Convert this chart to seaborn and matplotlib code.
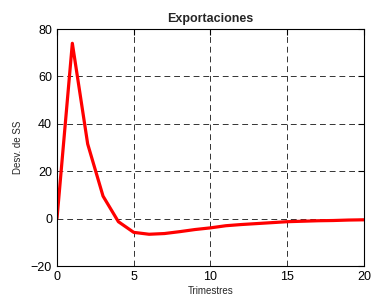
import matplotlib
matplotlib.use("Agg")
import matplotlib.pyplot as plt
import seaborn as sns
import pandas as pd

quarters = list(range(21))
desv = [0, 74, 31.5, 9.5, -1.3, -5.8, -6.6, -6.3, -5.5, -4.6, -3.9,
        -3.0, -2.5, -2.1, -1.7, -1.3, -1.1, -0.9, -0.8, -0.6, -0.5]
x_ticks = [0, 5, 10, 15, 20]
y_ticks = [-20, 0, 20, 40, 60, 80]

sns.set_style("white")
plt.rcParams['font.family'] = ['Liberation Sans', 'DejaVu Sans']

df = pd.DataFrame({"Trimestres": quarters, "Desv": desv})

fig = plt.figure(figsize=(3.71, 3.06), dpi=100)
ax = fig.add_axes([0.1536, 0.1307, 0.8274, 0.7743])
sns.lineplot(data=df, x="Trimestres", y="Desv", color="#ff0000", linewidth=2.3, ax=ax)
ax.set_xlim(0, 20)
ax.set_ylim(-20, 80)
ax.set_xticks(x_ticks)
ax.set_yticks(y_ticks)
ax.grid(True, color="black", linestyle=(0, (6, 4)), linewidth=0.7, alpha=0.8)
ax.tick_params(direction="in", length=4, labelsize=9, colors="black", width=0.8)
ax.tick_params(top=True, right=True)
for s in ax.spines.values():
    s.set_color("black")
    s.set_linewidth(0.8)
ax.set_title("Exportaciones", fontsize=9, fontweight="bold", pad=5)
ax.set_xlabel("Trimestres", fontsize=7, labelpad=2)
ax.set_ylabel("Desv. de SS", fontsize=7, labelpad=6)
fig.savefig("out.png", dpi=100)
